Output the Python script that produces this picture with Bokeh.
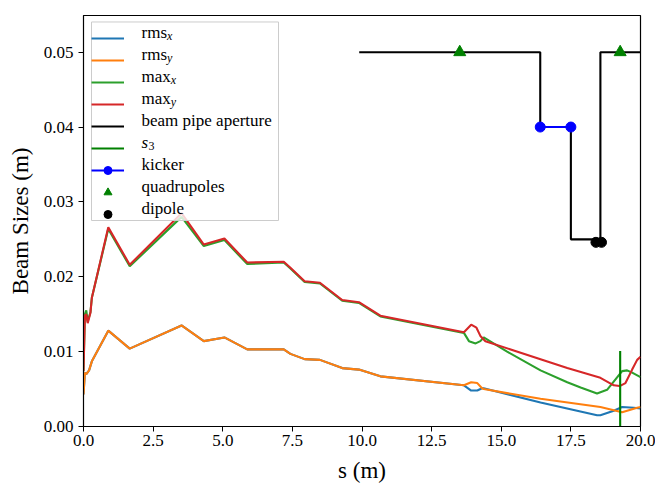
from bokeh.plotting import figure
from bokeh.models import (Legend, LegendItem, FixedTicker, PrintfTickFormatter, Label)
from bokeh.embed import file_html
from bokeh.resources import INLINE

# ---------------- data ----------------
s_rms_x = [0, 0.05, 0.1, 0.2, 0.3, 0.89, 1.66, 3.52, 4.32, 5.06, 5.88, 7.19, 7.43, 7.94, 8.49,
           9.29, 9.89, 10.66, 13.66, 13.92, 14.14, 14.31, 14.37, 16.41, 18.44, 18.56, 19.04,
           19.34, 19.76, 20.0]
rms_x = [0.0043, 0.0072, 0.0070, 0.0075, 0.0087, 0.0128, 0.0104, 0.0135, 0.0114, 0.0119, 0.0103,
         0.0103, 0.0097, 0.0090, 0.0089, 0.0078, 0.0076, 0.0067, 0.0055, 0.0048, 0.0048, 0.0051,
         0.0051, 0.0032, 0.0015, 0.0015, 0.0021, 0.0026, 0.0025, 0.0024]

s_rms_y = [0, 0.05, 0.1, 0.2, 0.3, 0.89, 1.66, 3.52, 4.32, 5.06, 5.88, 7.19, 7.43, 7.94, 8.49,
           9.29, 9.89, 10.66, 13.66, 13.92, 14.14, 14.31, 14.37, 16.41, 18.56, 19.34, 19.88, 20.0]
rms_y = [0.0043, 0.0072, 0.0070, 0.0075, 0.0087, 0.0128, 0.0104, 0.0135, 0.0114, 0.0119, 0.0103,
         0.0103, 0.0097, 0.0090, 0.0089, 0.0078, 0.0076, 0.0067, 0.0055, 0.0059, 0.0058, 0.0051,
         0.0050, 0.0037, 0.0026, 0.0019, 0.0025, 0.0026]

s_max_x = [0, 0.05, 0.1, 0.15, 0.25, 0.3, 0.89, 1.66, 3.52, 4.32, 5.06, 5.88, 7.19, 7.43, 7.94,
           8.49, 9.29, 9.89, 10.66, 13.66, 13.84, 14.08, 14.25, 14.37, 15.21, 16.41, 17.37,
           17.85, 18.44, 18.80, 19.34, 19.52, 19.70, 20.0]
max_x = [0.0074, 0.0150, 0.0155, 0.0140, 0.0153, 0.0172, 0.0264, 0.0214, 0.0280, 0.0241, 0.0249,
         0.0217, 0.0219, 0.0211, 0.0193, 0.0191, 0.0168, 0.0165, 0.0147, 0.0125, 0.0114, 0.0111,
         0.0114, 0.0119, 0.0100, 0.0075, 0.0059, 0.0052, 0.0044, 0.0049, 0.0074, 0.0075, 0.0072,
         0.0066]

s_max_y = [0, 0.05, 0.1, 0.15, 0.25, 0.3, 0.89, 1.66, 3.52, 4.32, 5.06, 5.88, 7.19, 7.43, 7.94,
           8.49, 9.29, 9.89, 10.66, 13.66, 13.92, 14.11, 14.25, 14.43, 17.37, 18.56, 19.04,
           19.25, 19.46, 19.70, 19.88, 20.0]
max_y = [0.0074, 0.0148, 0.0150, 0.0138, 0.0152, 0.0172, 0.0266, 0.0216, 0.0285, 0.0243, 0.0251,
         0.0219, 0.0220, 0.0212, 0.0194, 0.0192, 0.0169, 0.0166, 0.0148, 0.0126, 0.0136, 0.0132,
         0.0121, 0.0114, 0.0078, 0.0065, 0.0055, 0.0054, 0.0058, 0.0076, 0.0089, 0.0093]

aperture_s = [9.9, 16.4, 16.4, 17.5, 17.5, 18.56, 18.56, 20.5]
aperture = [0.05, 0.05, 0.04, 0.04, 0.025, 0.025, 0.05, 0.05]

s3_s = [19.27, 19.27]
s3_v = [0.0, 0.0101]

kicker_s = [16.4, 17.5]
kicker_v = [0.04, 0.04]

quad_s = [13.51, 19.27]
quad_v = [0.05, 0.05]

dipole_s = [18.4, 18.6]
dipole_v = [0.0246, 0.0246]

x_ticks = [0, 2.5, 5, 7.5, 10, 12.5, 15, 17.5, 20]
y_ticks = [0, 0.01, 0.02, 0.03, 0.04, 0.05]

legend_labels = [("rms", "x"), ("rms", "y"), ("max", "x"), ("max", "y"),
                 ("beam pipe aperture", ""), ("s", "3"), ("kicker", ""),
                 ("quadrupoles", ""), ("dipole", "")]

X_MAX = 20
Y_MAX = 0.0549
FONT = "Liberation Serif"

# ---------------- figure ----------------
W, H = 655, 485
L, R, T, B = 83, 15, 15, 58
p = figure(width=W, height=H, x_range=(0, X_MAX), y_range=(0, Y_MAX),
           output_backend="svg", toolbar_location=None,
           min_border_left=L, min_border_right=R, min_border_top=T, min_border_bottom=B)
p.background_fill_color = "white"
p.border_fill_color = "white"
p.outline_line_color = "black"
p.outline_line_width = 1.2
p.xgrid.visible = False
p.ygrid.visible = False

lw = 2.1
r1 = p.line(s_rms_x, rms_x, color="#1f77b4", line_width=lw)
r2 = p.line(s_rms_y, rms_y, color="#ff7f0e", line_width=lw)
r3 = p.line(s_max_x, max_x, color="#2ca02c", line_width=lw)
r4 = p.line(s_max_y, max_y, color="#d62728", line_width=lw)
r5 = p.line(aperture_s, aperture, color="black", line_width=lw)
r6 = p.line(s3_s, s3_v, color="#008000", line_width=lw)
r7a = p.line(kicker_s, kicker_v, color="#0000ff", line_width=lw)
r7b = p.scatter(kicker_s, kicker_v, marker="circle", size=10, color="#0000ff")
r8 = p.scatter(quad_s, quad_v, marker="triangle", size=12, color="#008000")
r9 = p.scatter(dipole_s, dipole_v, marker="circle", size=10, color="black")

for ax in (p.xaxis[0], p.yaxis[0]):
    ax.axis_line_color = "black"
    ax.major_tick_line_color = "black"
    ax.minor_tick_line_color = None
    ax.major_tick_out = 5
    ax.major_tick_in = 0
    ax.major_label_text_font = FONT
    ax.major_label_text_font_size = "17px"
    ax.major_label_text_color = "black"
    ax.axis_label_text_font = FONT
    ax.axis_label_text_font_style = "normal"
    ax.axis_label_text_color = "black"
    ax.axis_label_text_font_size = "23px"

p.xaxis.ticker = FixedTicker(ticks=x_ticks)
p.yaxis.ticker = FixedTicker(ticks=y_ticks)
p.xaxis.formatter = PrintfTickFormatter(format="%.1f")
p.yaxis.formatter = PrintfTickFormatter(format="%.2f")
p.xaxis.axis_label = "s (m)"
p.yaxis.axis_label = "Beam Sizes (m)"
p.xaxis.major_label_standoff = 3
p.yaxis.major_label_standoff = 5
p.xaxis.axis_label_standoff = 9
p.yaxis.axis_label_standoff = 8

# ---------------- legend ----------------
fw = W - L - R
fh = H - T - B


def px(xp, yp):
    """page pixel -> data coordinates"""
    return (xp - L) / fw * X_MAX, (H - B - yp) / fh * Y_MAX


# legend frame (white, translucent, light grey border), drawn over the curves
bx0, by0 = px(91, 21.5)
bx1, by1 = px(278, 220.5)
p.quad(left=[bx0], right=[bx1], top=[by0], bottom=[by1], fill_color="white",
       fill_alpha=0.8, line_color="#cccccc", line_width=1)

PAD, GW, GH, SP = 5, 33, 20, 2
n_items = len(legend_labels)
leg_h = 2 * PAD + n_items * GH + (n_items - 1) * SP
first_center = 33.5
leg_top = first_center - GH / 2 - PAD
legend = Legend(items=[
    LegendItem(label=" ", renderers=[r1]),
    LegendItem(label=" ", renderers=[r2]),
    LegendItem(label=" ", renderers=[r3]),
    LegendItem(label=" ", renderers=[r4]),
    LegendItem(label=" ", renderers=[r5]),
    LegendItem(label=" ", renderers=[r6]),
    LegendItem(label=" ", renderers=[r7a, r7b]),
    LegendItem(label=" ", renderers=[r8]),
    LegendItem(label=" ", renderers=[r9]),
], location=(96 - PAD - L, (H - B) - (leg_top + leg_h)))
legend.padding = PAD
legend.spacing = SP
legend.glyph_width = GW
legend.glyph_height = GH
legend.label_height = GH
legend.label_width = 1
legend.label_standoff = 0
legend.label_text_font_size = "1px"
legend.border_line_color = None
legend.background_fill_alpha = 0.0
p.add_layout(legend)

text_x = 141
sub_dx = {"rms": 25.5, "max": 29.3, "s": 7.0}
for i, (main, sub) in enumerate(legend_labels):
    cy = first_center - 1.5 + i * (GH + SP)
    style = "italic" if main == "s" else "normal"
    xx, yy = px(text_x, cy)
    p.add_layout(Label(x=xx, y=yy, text=main, text_font=FONT, text_font_style=style,
                       text_font_size="17px", text_baseline="middle", text_align="left",
                       text_color="black", level="overlay"))
    if sub:
        xx, yy = px(text_x + sub_dx[main], cy + 4)
        p.add_layout(Label(x=xx, y=yy, text=sub, text_font=FONT,
                           text_font_style="normal" if sub == "3" else "italic",
                           text_font_size="12px", text_baseline="middle", text_align="left",
                           text_color="black", level="overlay"))

open("out.html", "w").write(file_html(p, INLINE))
